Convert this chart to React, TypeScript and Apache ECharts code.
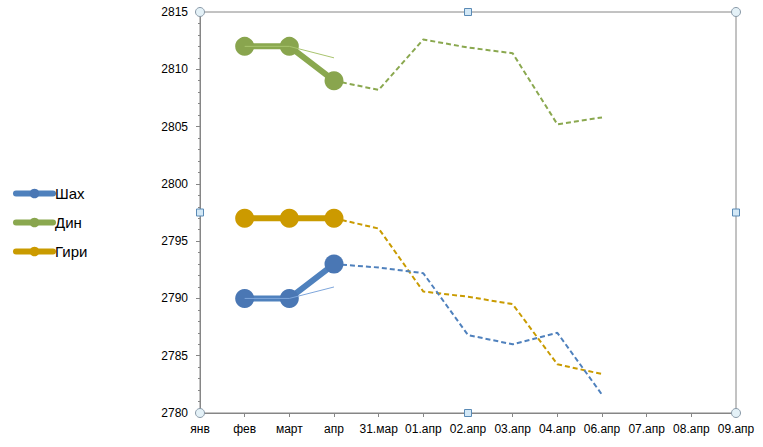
import React, { useEffect, useRef } from "react";
import * as echarts from "echarts";

const categories = ["янв", "фев", "март", "апр", "31.мар", "01.апр", "02.апр", "03.апр", "04.апр", "06.апр", "07.апр", "08.апр", "09.апр"];
const seriesNames = ["Шах", "Дин", "Гири"];

const shahActual = [null, 2790, 2790, 2793, null, null, null, null, null, null, null, null, null];
const dinActual = [null, 2812, 2812, 2809, null, null, null, null, null, null, null, null, null];
const giriActual = [null, 2797, 2797, 2797, null, null, null, null, null, null, null, null, null];

const shahForecast = [null, null, null, 2793, 2792.7, 2792.2, 2786.8, 2786.0, 2787.0, 2781.6, null, null, null];
const dinForecast = [null, null, null, 2809, 2808.2, 2812.6, 2811.9, 2811.4, 2805.2, 2805.8, null, null, null];
const giriForecast = [null, null, null, 2797, 2796.1, 2790.6, 2790.15, 2789.5, 2784.25, 2783.4, null, null, null];

const shahTrend = [null, 2790, 2790, 2791, null, null, null, null, null, null, null, null, null];
const dinTrend = [null, 2812, 2812, 2811, null, null, null, null, null, null, null, null, null];

const yMin = 2780;
const yMax = 2815;
const yInterval = 5;

const colors = {
  shah: "#4a77b4",
  shahLine: "#4f81bd",
  shahThin: "#7ea6db",
  din: "#89a54e",
  dinLine: "#8aa84f",
  dinThin: "#a9c46f",
  giri: "#cc9a00",
  giriLine: "#c99b00",
};

const W = 763;
const H = 447;
const G = { left: 200, top: 12, right: 27, bottom: 34 };

export default function App() {
  const ref = useRef<HTMLDivElement>(null);
  useEffect(() => {
    if (!ref.current) return;
    const chart = echarts.init(ref.current, undefined, { renderer: "svg" });
    const font = "Liberation Sans";
    const x0 = G.left, x1 = W - G.right, y0 = G.top, y1 = H - G.bottom;
    const xm = (x0 + x1) / 2, ym = (y0 + y1) / 2;
    const circleHandle = (x: number, y: number) => ({
      type: "circle",
      shape: { cx: x, cy: y, r: 4.5 },
      style: { fill: "#e4f1f7", stroke: "#8a9aa8", lineWidth: 1 },
      z: 100,
    });
    const squareHandle = (x: number, y: number) => ({
      type: "rect",
      shape: { x: x - 3.5, y: y - 3.5, width: 7, height: 7 },
      style: { fill: "#d3e8f6", stroke: "#5a8ab5", lineWidth: 1 },
      z: 100,
    });
    const solid = (name: string, data: any[], color: string, line: string) => ({
      name,
      type: "line",
      data,
      symbol: "circle",
      symbolSize: 19,
      itemStyle: { color },
      lineStyle: { color: line, width: 6 },
      z: 3,
    });
    const dashed = (name: string, data: any[], color: string) => ({
      name,
      type: "line",
      data,
      symbol: "none",
      showSymbol: false,
      lineStyle: { color, width: 2, type: [5, 3] },
      z: 2,
    });
    const thin = (name: string, data: any[], color: string) => ({
      name,
      type: "line",
      data,
      symbol: "none",
      showSymbol: false,
      lineStyle: { color, width: 1 },
      z: 4,
    });
    chart.setOption({
      animation: false,
      backgroundColor: "#ffffff",
      textStyle: { fontFamily: font },
      grid: {
        left: G.left,
        top: G.top,
        right: G.right,
        bottom: G.bottom,
        show: true,
        borderColor: "#868686",
        borderWidth: 1,
        containLabel: false,
      },
      legend: {
        data: seriesNames,
        orient: "vertical",
        left: 8,
        top: 181,
        itemWidth: 37,
        itemHeight: 12,
        itemGap: 14,
        lineStyle: { width: 6, cap: "round" },
        textStyle: { fontSize: 15, color: "#000", fontFamily: font, padding: [0, 0, 0, -3] },
        selectedMode: false,
      },
      xAxis: {
        type: "category",
        data: categories,
        boundaryGap: false,
        axisLine: { lineStyle: { color: "#868686" } },
        axisTick: { show: true, length: 4, lineStyle: { color: "#868686" } },
        axisLabel: { fontSize: 12, color: "#000", margin: 10, interval: 0, fontFamily: font },
        splitLine: { show: false },
      },
      yAxis: {
        type: "value",
        min: yMin,
        max: yMax,
        interval: yInterval,
        axisLine: { show: true, lineStyle: { color: "#868686" } },
        axisTick: { show: true, length: 4, lineStyle: { color: "#868686" } },
        minorTick: { show: true, splitNumber: 5, length: 2, lineStyle: { color: "#868686" } },
        axisLabel: {
          fontSize: 12,
          color: "#000",
          margin: 12,
          fontFamily: font,
          formatter: (v: number) => String(v),
        },
        splitLine: { show: false },
      },
      series: [
        dashed("Гири прогноз", giriForecast, colors.giriLine),
        dashed("Дин прогноз", dinForecast, colors.dinLine),
        dashed("Шах прогноз", shahForecast, colors.shahLine),
        solid("Шах", shahActual, colors.shah, colors.shahLine),
        solid("Дин", dinActual, colors.din, colors.dinLine),
        solid("Гири", giriActual, colors.giri, colors.giriLine),
        thin("Шах тренд", shahTrend, colors.shahThin),
        thin("Дин тренд", dinTrend, colors.dinThin),
      ],
      graphic: [
        circleHandle(x0, y0),
        circleHandle(x1, y0),
        circleHandle(x0, y1),
        circleHandle(x1, y1),
        squareHandle(xm, y0),
        squareHandle(xm, y1),
        squareHandle(x0, ym),
        squareHandle(x1, ym),
      ],
    });
    return () => chart.dispose();
  }, []);
  return <div ref={ref} style={{ position: "fixed", left: 0, top: 0, width: W, height: H }} />;
}
